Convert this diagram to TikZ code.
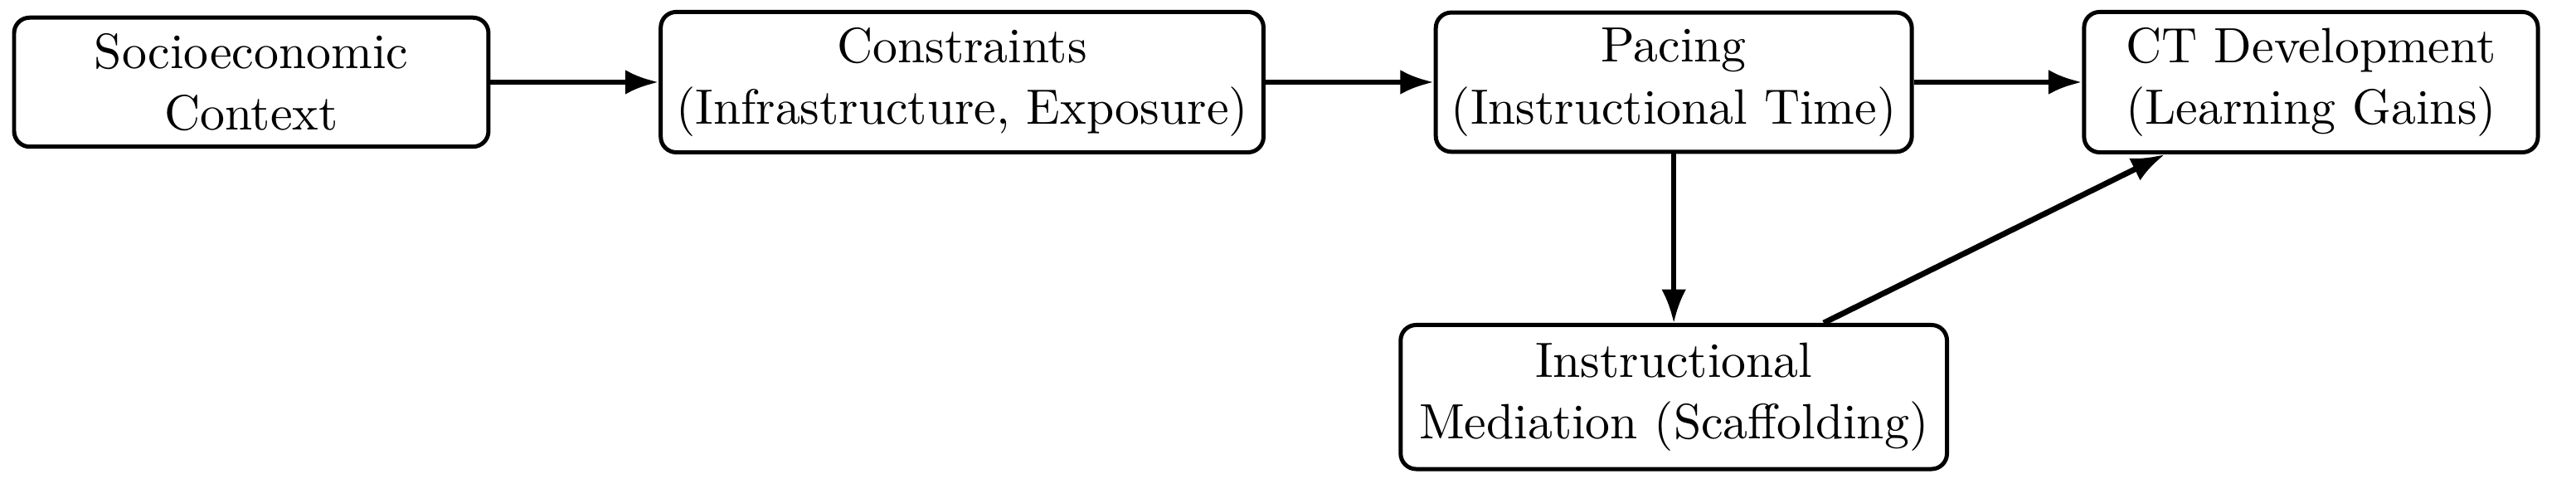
\documentclass[tikz,border=0pt]{standalone}
\usetikzlibrary{arrows.meta,positioning}

\begin{document}
\begin{tikzpicture}[
  font=\fontsize{9.6pt}{12pt}\selectfont,
  node distance=1.145cm,
  box/.style={draw, thick, rounded corners=3pt, align=center, inner sep=3pt},
  arr/.style={-{Latex[length=6.5pt,width=4.8pt]}, line width=1.1pt}
]
\useasboundingbox (0,0) rectangle (17.54,3.258);
\node[box, minimum width=3.23cm, minimum height=0.84cm] (socio) at (1.711,2.699) {Socioeconomic\\Context};
\node[box, minimum width=4.04cm, minimum height=0.91cm, right=of socio] (constr) {Constraints\\(Infrastructure, Exposure)};
\node[box, minimum width=3.22cm, minimum height=0.91cm, right=of constr] (pacing) {Pacing\\(Instructional Time)};
\node[box, minimum width=3.09cm, minimum height=0.93cm, right=of pacing] (ctdev) {CT Development\\(Learning Gains)};
\node[box, minimum width=3.72cm, minimum height=0.98cm, below=1.15cm of pacing] (mediation) {Instructional\\Mediation (Scaffolding)};
\draw[arr] (socio) -- (constr);
\draw[arr] (constr) -- (pacing);
\draw[arr] (pacing) -- (ctdev);
\draw[arr, line width=0.9pt] (pacing) -- (mediation);
\draw[arr] (mediation) -- (ctdev);
\end{tikzpicture}
\end{document}
